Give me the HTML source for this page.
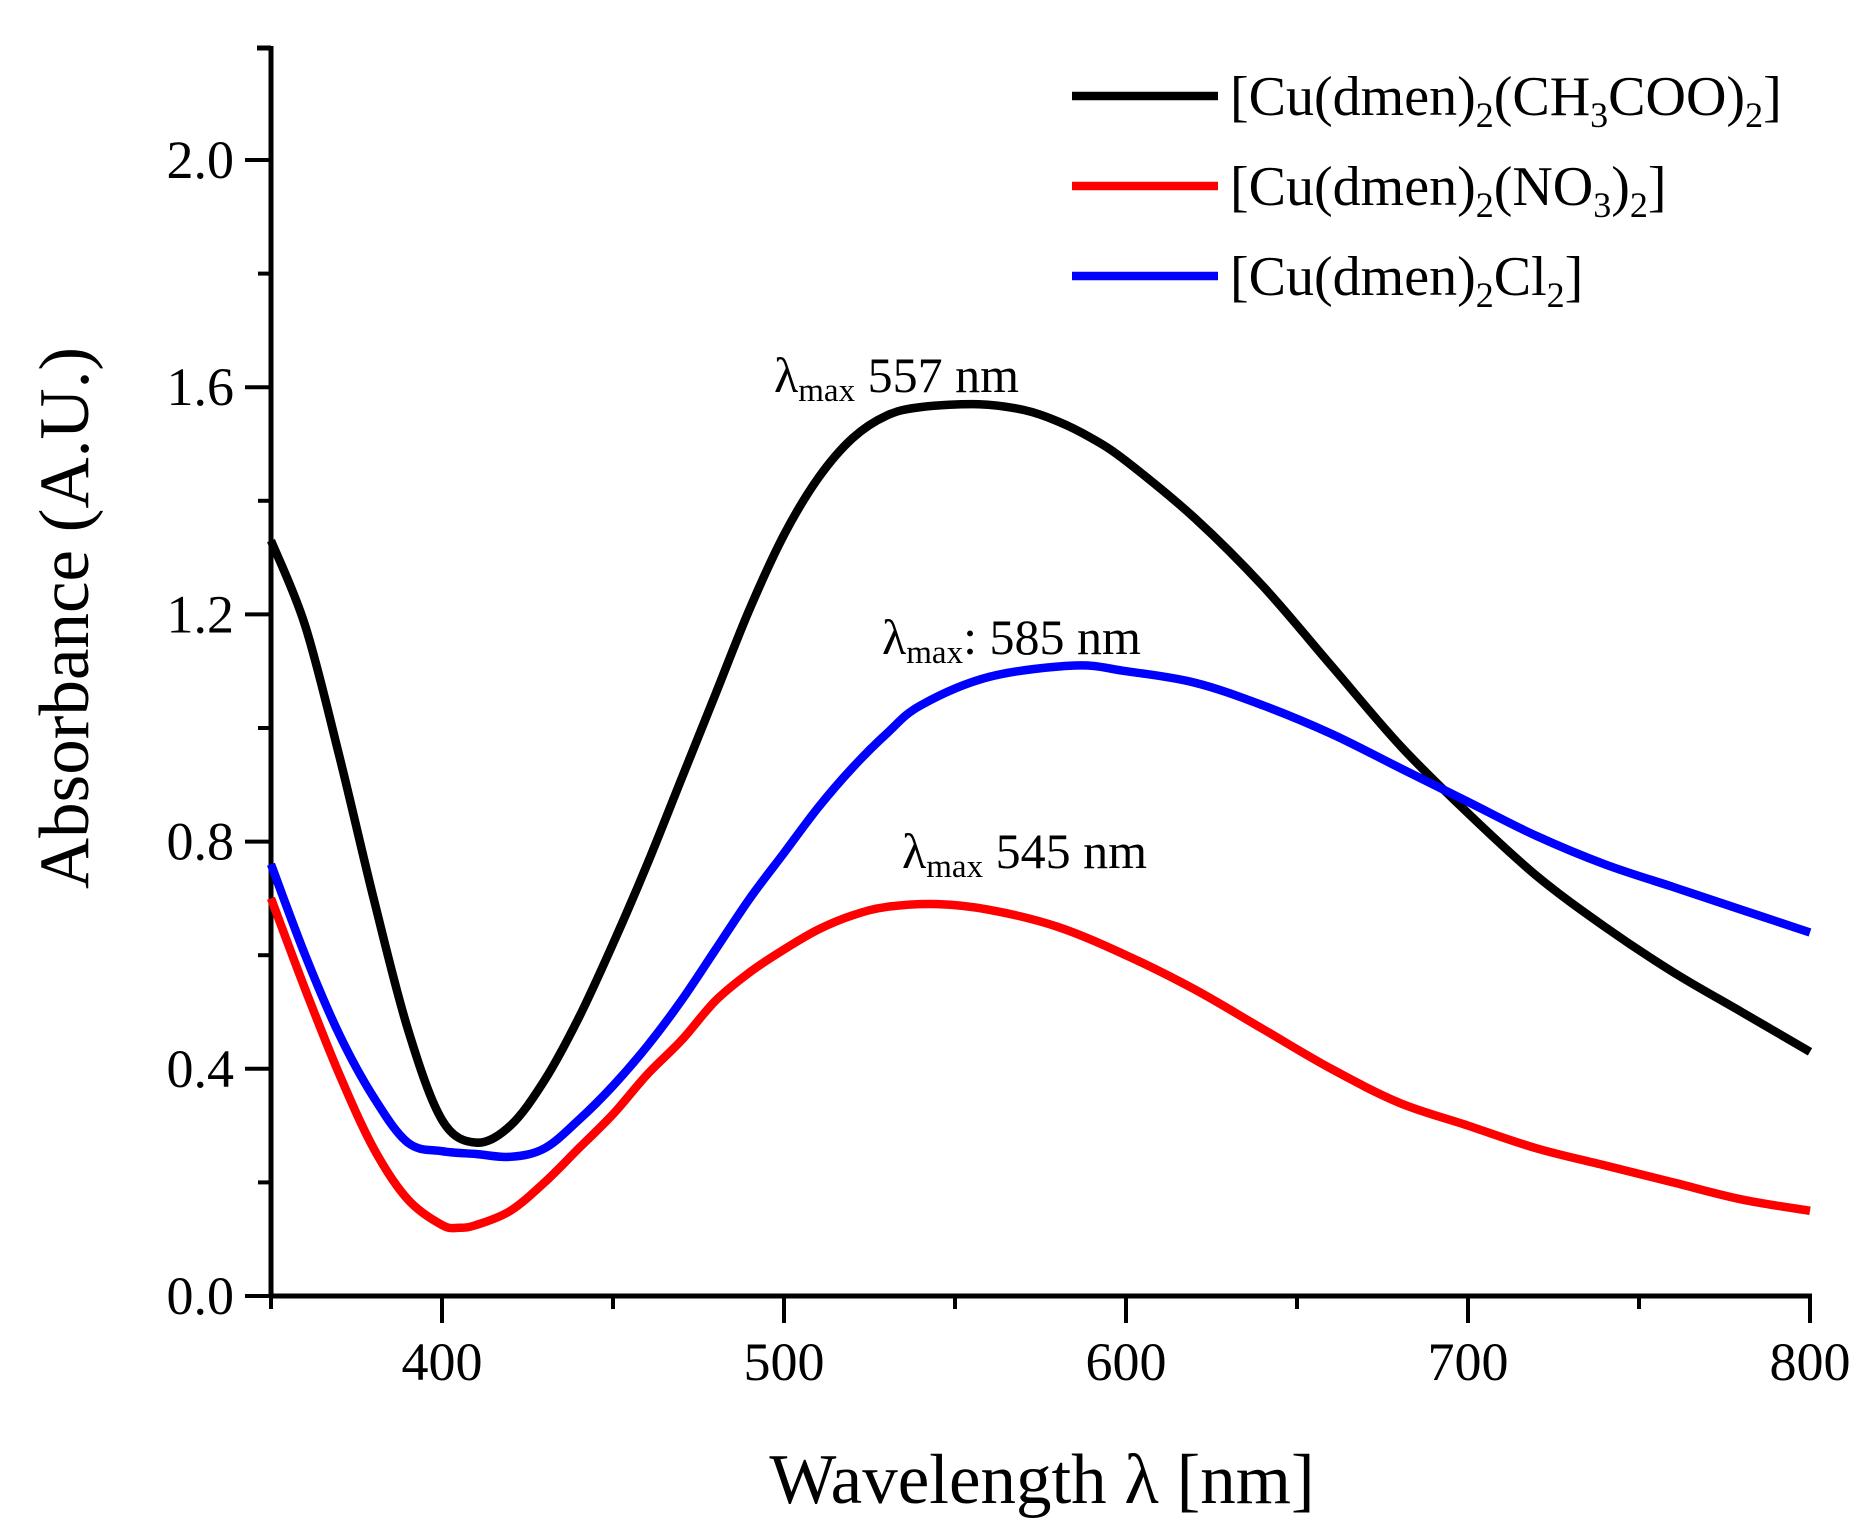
<!DOCTYPE html>
<html><head><meta charset="utf-8"><style>
html,body{margin:0;padding:0;background:#fff}
svg{display:block}
text{font-family:"Liberation Serif",serif;fill:#000}
</style></head><body>
<svg id="chart" width="1875" height="1537" viewBox="0 0 1875 1537">
<g id="plot"></g>
</svg>
<script>
const xTicks=[400,500,600,700,800];
const yTicks=[0.0,0.4,0.8,1.2,1.6,2.0];
const seriesNames=["[Cu(dmen)2(CH3COO)2]","[Cu(dmen)2(NO3)2]","[Cu(dmen)2Cl2]"];
const blackX=[350,360,370,380,390,400,410,420,430,440,450,460,470,480,490,500,510,520,530,540,557,570,580,590,600,620,640,660,680,700,720,740,760,780,800];
const blackY=[1.33,1.18,0.95,0.70,0.47,0.31,0.27,0.30,0.38,0.49,0.62,0.76,0.91,1.06,1.21,1.34,1.44,1.51,1.55,1.565,1.57,1.56,1.54,1.51,1.47,1.37,1.25,1.11,0.97,0.85,0.74,0.65,0.57,0.50,0.43];
const redX=[350,360,370,380,390,400,405,410,420,430,440,450,460,470,480,490,500,510,520,530,545,560,580,600,620,640,660,680,700,720,740,760,780,800];
const redY=[0.70,0.54,0.39,0.26,0.17,0.125,0.12,0.125,0.15,0.20,0.26,0.32,0.39,0.45,0.52,0.57,0.61,0.645,0.67,0.685,0.69,0.68,0.65,0.60,0.54,0.47,0.40,0.34,0.30,0.26,0.23,0.20,0.17,0.15];
const blueX=[350,360,370,380,390,400,410,420,430,440,450,460,470,480,490,500,510,520,530,540,560,585,600,620,640,660,680,700,720,740,760,780,800];
const blueY=[0.76,0.60,0.46,0.35,0.27,0.255,0.25,0.245,0.26,0.31,0.37,0.44,0.52,0.61,0.70,0.78,0.86,0.93,0.99,1.04,1.09,1.11,1.10,1.08,1.04,0.99,0.93,0.87,0.81,0.76,0.72,0.68,0.64];

const NS="http://www.w3.org/2000/svg";
const g=document.getElementById('plot');
const X0=271,X1=1810,Y0=1296,Y2=160;
function sx(v){return X0+(v-350)/(800-350)*(X1-X0);}
function sy(v){return Y0-v/2.0*(Y0-Y2);}
function mk(tag,attrs,parent){const e=document.createElementNS(NS,tag);for(const k in attrs)e.setAttribute(k,attrs[k]);(parent||g).appendChild(e);return e;}

let e=mk('line',{x1:X0,y1:46,x2:X0,y2:Y0+2,stroke:'#000','stroke-width':5});


e=mk('line',{x1:X0-2,y1:Y0,x2:X1+2,y2:Y0,stroke:'#000','stroke-width':5});


mk('line',{x1:X0-14,y1:48,x2:X0,y2:48,stroke:'#000','stroke-width':5});

for(let v=350;v<=800;v+=50){
  const major=(v%100===0);
  const t=mk('line',{x1:sx(v),y1:Y0,x2:sx(v),y2:Y0+(major?27:13),stroke:'#000','stroke-width':4});
  
  
}
xTicks.forEach(v=>{
  const t=mk('text',{x:sx(v),y:1380,'font-size':54,'text-anchor':'middle'});
  t.textContent=String(v);
  
  
});
for(let i=0;i<=10;i++){
  const v=i*0.2;
  const major=(i%2===0);
  const t=mk('line',{x1:X0-(major?26:13),y1:sy(v),x2:X0,y2:sy(v),stroke:'#000','stroke-width':4});
  
  
}
yTicks.forEach(v=>{
  const t=mk('text',{x:234,y:sy(v)+18,'font-size':54,'text-anchor':'end'});
  t.textContent=v.toFixed(1);
  
  
});
e=mk('text',{x:1042,y:1503,'font-size':71,'text-anchor':'middle'});
e.textContent='Wavelength λ [nm]';


e=mk('text',{x:0,y:0,'font-size':71,'text-anchor':'middle',transform:'translate(88,618) rotate(-90)'});
e.textContent='Absorbance (A.U.)';



function catmull(xs,ys){
  const p=xs.map((x,i)=>[sx(x),sy(ys[i])]);
  let d='M'+p[0][0].toFixed(1)+','+p[0][1].toFixed(1);
  for(let i=0;i<p.length-1;i++){
    const a=p[Math.max(i-1,0)],b=p[i],c=p[i+1],dd=p[Math.min(i+2,p.length-1)];
    const c1=[b[0]+(c[0]-a[0])/6,b[1]+(c[1]-a[1])/6],c2=[c[0]-(dd[0]-b[0])/6,c[1]-(dd[1]-b[1])/6];
    d+=' C'+c1[0].toFixed(1)+','+c1[1].toFixed(1)+' '+c2[0].toFixed(1)+','+c2[1].toFixed(1)+' '+c[0].toFixed(1)+','+c[1].toFixed(1);
  }
  return d;
}
e=mk('path',{d:catmull(blackX,blackY),fill:'none',stroke:'#000','stroke-width':8.5,'stroke-linejoin':'round'});


e=mk('path',{d:catmull(redX,redY),fill:'none',stroke:'#ff0000','stroke-width':8.5,'stroke-linejoin':'round'});


e=mk('path',{d:catmull(blueX,blueY),fill:'none',stroke:'#0000ff','stroke-width':8.5,'stroke-linejoin':'round'});



const legColors=['#000','#ff0000','#0000ff'];
const S='<tspan font-size="36" dy="12">',U='</tspan><tspan dy="-12">';
const legHTML=['[Cu(dmen)'+S+'2'+U+'(CH</tspan>'+S+'3'+U+'COO)</tspan>'+S+'2'+U+']</tspan>',
 '[Cu(dmen)'+S+'2'+U+'(NO</tspan>'+S+'3'+U+')</tspan>'+S+'2'+U+']</tspan>',
 '[Cu(dmen)'+S+'2'+U+'Cl</tspan>'+S+'2'+U+']</tspan>'];
seriesNames.forEach((n,i)=>{
  const y=96+i*90;
  const l=mk('line',{x1:1072,y1:y,x2:1218,y2:y,stroke:legColors[i],'stroke-width':8.5});
  
  
  const t=mk('text',{x:1230,y:y+19,'font-size':56});
  t.innerHTML=legHTML[i];
  
  
});

const ann=[[774,392,'λ<tspan font-size="33" dy="9">max</tspan><tspan dy="-9"> 557 nm</tspan>'],
[882,654,'λ<tspan font-size="33" dy="9">max</tspan><tspan dy="-9">: 585 nm</tspan>'],
[902,868,'λ<tspan font-size="33" dy="9">max</tspan><tspan dy="-9"> 545 nm</tspan>']];
ann.forEach(a=>{
  const t=mk('text',{x:a[0],y:a[1],'font-size':50});
  t.innerHTML=a[2];
  
  
});
</script>
</body></html>
